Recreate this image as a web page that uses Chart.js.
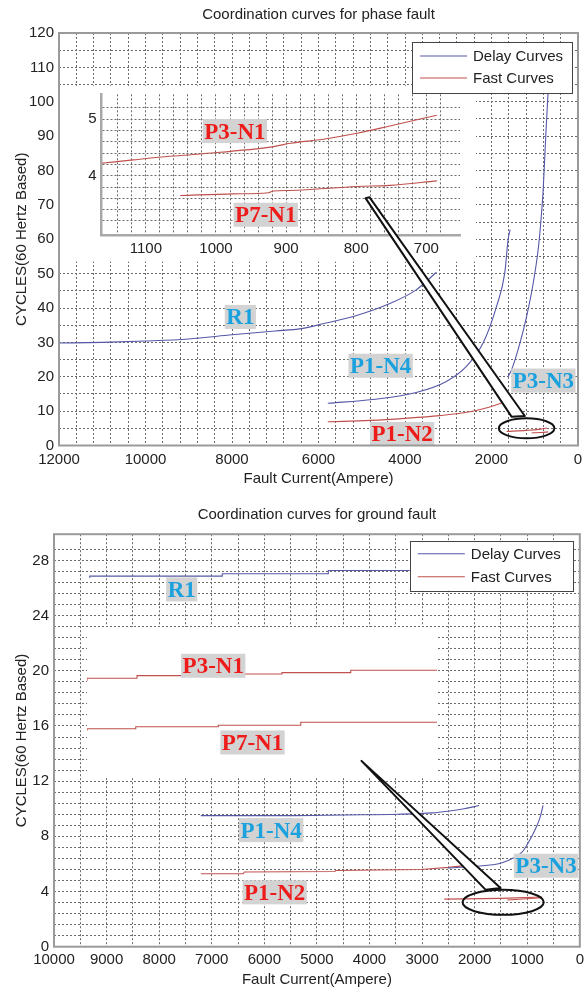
<!DOCTYPE html>
<html><head><meta charset="utf-8">
<script src="https://cdn.jsdelivr.net/npm/chart.js@4.4.1/dist/chart.umd.min.js"></script>
<style>
html,body{margin:0;padding:0;background:#fff;}
#wrap{position:relative;width:588px;height:992px;overflow:hidden;background:#fff;}
.fig{position:absolute;left:0;width:588px;}
.fig canvas{position:absolute;left:0;top:0;}
</style></head>
<body>
<div id="wrap">
  <div class="fig" style="top:0;height:492px">
    <canvas id="phaseMain" width="588" height="492"></canvas>
    <canvas id="phaseInset" width="588" height="492"></canvas>
  </div>
  <div class="fig" style="top:492px;height:500px">
    <canvas id="groundMain" width="588" height="500"></canvas>
    <canvas id="groundInset" width="588" height="500"></canvas>
  </div>
</div>
<script>
// ================= DATA =================
// ---- Phase fault, main axes (Fault current A  vs  cycles) ----
const phaseXLabels = [12000, 10000, 8000, 6000, 4000, 2000, 0];
const phaseYLabels = [0, 10, 20, 30, 40, 50, 60, 70, 80, 90, 100, 110, 120];
// Delay curves
const phaseR1_I   = [12000, 11000, 10000, 9000, 8000, 7000, 6400, 5900, 5100, 4350, 3750, 3274];
const phaseR1_T   = [29.8, 30.0, 30.4, 31.0, 32.2, 33.3, 34.0, 35.4, 37.9, 41.3, 45.2, 50.4];
const phaseP1N4_I = [5785, 4743, 3739, 3044, 2581, 2195, 1885, 1693, 1616, 1570];
const phaseP1N4_T = [12.3, 13.4, 15.4, 18.6, 23.0, 29.8, 40.4, 50.2, 59.9, 62.8];
const phaseP3N3_I = [1620, 1537, 1344, 1189, 1036, 920, 870, 805, 742, 689, 650];
const phaseP3N3_T = [20.0, 22.0, 29.7, 37.5, 47.2, 57.1, 63.5, 74.4, 90.9, 103.6, 112];
// Fast curves
const phaseP1N2_I = [5785, 4800, 4000, 3200, 2500, 2040, 1800, 1576];
const phaseP1N2_T = [6.9, 7.3, 7.9, 8.7, 9.8, 11.2, 12.2, 13.3];
const phaseP3N1_I = [1650, 1200, 900, 720];
const phaseP3N1_T = [4.1, 4.4, 4.7, 5.1];
const phaseP7N1_I = [1070, 850, 690];
const phaseP7N1_T = [3.7, 3.8, 3.95];
// ---- Phase fault, zoomed inset ----
const insetXLabels = [1100, 1000, 900, 800, 700];
const insetYLabels = [3, 4, 5];
const insetP3N1_I = [1163, 1118, 1070, 1023, 918, 894, 847, 799, 752, 685];
const insetP3N1_T = [4.22, 4.28, 4.34, 4.385, 4.515, 4.574, 4.645, 4.75, 4.88, 5.07];
const insetP7N1_I = [1051, 975, 925, 918, 894, 799, 752, 685];
const insetP7N1_T = [3.65, 3.68, 3.70, 3.73, 3.74, 3.81, 3.83, 3.91];

// ---- Ground fault, main axes ----
const groundXLabels = [10000, 9000, 8000, 7000, 6000, 5000, 4000, 3000, 2000, 1000, 0];
const groundYLabels = [0, 4, 8, 12, 16, 20, 24, 28];
const groundR1_I   = [9319, 6800, 4783, 3964, 3100];          // stepped
const groundR1_T   = [26.72, 26.86, 27.03, 27.27, 27.27];
const groundP1N4_I = [7208, 5539, 4500, 3459, 2800, 2514, 2200, 1915];
const groundP1N4_T = [9.5, 9.5, 9.55, 9.6, 9.7, 9.82, 10.0, 10.23];
const groundP3N3_I = [2514, 1758, 1507, 1253, 1100, 1002, 900, 813, 750, 699];
const groundP3N3_T = [5.70, 5.9, 6.05, 6.45, 6.85, 7.4, 8.1, 8.8, 9.45, 10.25];
const groundP1N2_I = [7208, 6400, 6380, 4660, 4640, 3020, 2500, 2000];
const groundP1N2_T = [5.29, 5.29, 5.41, 5.45, 5.52, 5.6, 5.75, 5.95];
const groundP3N1_I = [2577, 1500, 718];
const groundP3N1_T = [3.45, 3.5, 3.6];
const groundP7N1_I = [1380, 718];
const groundP7N1_T = [3.38, 3.55];
// ---- Ground fault, pasted inset (axes hidden) ----
const gInsetP3N1_I = [1156, 1116, 1075, 1000, 945, 888, 876];   // stepped
const gInsetP3N1_T = [19.32, 19.52, 19.71, 19.83, 19.93, 20.1, 20.1];
const gInsetP7N1_I = [1156, 1117, 1051, 985, 921, 876];         // stepped
const gInsetP7N1_T = [15.71, 15.85, 16.0, 16.1, 16.32, 16.32];

const legendLabels = ['Delay Curves', 'Fast Curves'];

// ================= STYLE =================
const DELAY = '#5558a8', FAST = '#c0504d';
const CYAN = '#1ba1dd', RED = '#ee1b1b', BOXGRAY = '#d3d3d3';
const SANS = '"Liberation Sans", Arial, Helvetica, sans-serif';
const SERIF = '"Liberation Serif", "Times New Roman", serif';
const TXT = '#222';
Chart.defaults.font.family = SANS;

// text label anchors (data units)
const phaseLabels = [
  {t:'R1', x:7807, y:37.4, c:CYAN}, {t:'P1-N4', x:4564, y:23.2, c:CYAN},
  {t:'P3-N3', x:800, y:18.9, c:CYAN}, {t:'P1-N2', x:4066, y:3.35, c:RED}];
const phaseInsetLabels = [{t:'P3-N1', x:973, y:4.79, c:RED}, {t:'P7-N1', x:929, y:3.31, c:RED}];
const groundLabels = [
  {t:'R1', x:7571, y:25.9, c:CYAN}, {t:'P1-N4', x:5870, y:8.45, c:CYAN},
  {t:'P1-N2', x:5803, y:3.94, c:RED}, {t:'P3-N3', x:643, y:5.87, c:CYAN}];
const groundInsetLabels = [{t:'P3-N1', x:1055, y:20.43, c:RED}, {t:'P7-N1', x:1023.6, y:14.85, c:RED}];
// call-out annotations (data units of main axes)
const phaseArrow = {x:[4912, 1537, 1229, 4819], y:[71.95, 8.39, 8.59, 72.2]};
const phaseEllipse = {x:[1831, 546], y:[7.9, 2.1]};
const groundArrow = {x:[4153, 1790, 1507], y:[13.47, 4.12, 4.25]};
const groundEllipse = {x:[2231, 686], y:[4.12, 2.31]};

// ================= HELPERS =================
function pts(xs, ys){ return xs.map((x,i)=>({x:x, y:ys[i]})); }
function ds(label, xs, ys, color, extra){
  return Object.assign({label:label, data:pts(xs,ys), borderColor:color, backgroundColor:color,
    borderWidth:1.1, pointRadius:0, fill:false, tension:0}, extra||{});
}
const smooth = {cubicInterpolationMode:'monotone'};
const stepAfter = {stepped:'after'};
function stepFilter(step){ return s => { s.ticks = s.ticks.filter(t => Math.abs(t.value/step - Math.round(t.value/step)) < 1e-6); }; }
function labelIf(list){ return v => list.some(l => Math.abs(l - v) < 1e-6) ? String(v) : ''; }
function boxLabel(ctx, text, px, py, color){
  ctx.save();
  ctx.font = 'bold 23px ' + SERIF;
  const w = ctx.measureText(text).width + 3, h = 24;
  ctx.fillStyle = BOXGRAY; ctx.fillRect(px - w/2, py - h/2, w, h);
  ctx.fillStyle = color; ctx.textAlign = 'center'; ctx.textBaseline = 'middle';
  ctx.fillText(text, px, py + 1.5);
  ctx.restore();
}
function drawLabels(chart, list){
  const sx = chart.scales.x, sy = chart.scales.y;
  list.forEach(l => boxLabel(chart.ctx, l.t, sx.getPixelForValue(l.x), sy.getPixelForValue(l.y), l.c));
}
function drawCallout(ctx, sx, sy, arrow, ell){
  ctx.save();
  ctx.beginPath();
  arrow.x.forEach((v,i) => { const px = sx.getPixelForValue(v), py = sy.getPixelForValue(arrow.y[i]); if (i) ctx.lineTo(px,py); else ctx.moveTo(px,py); });
  ctx.closePath();
  ctx.fillStyle = '#fff'; ctx.fill();
  ctx.lineWidth = 2; ctx.strokeStyle = '#111'; ctx.lineJoin = 'round'; ctx.stroke();
  const x1 = sx.getPixelForValue(ell.x[0]), x2 = sx.getPixelForValue(ell.x[1]);
  const y1 = sy.getPixelForValue(ell.y[0]), y2 = sy.getPixelForValue(ell.y[1]);
  ctx.beginPath();
  ctx.ellipse((x1+x2)/2, (y1+y2)/2, Math.abs(x2-x1)/2, Math.abs(y2-y1)/2, 0, 0, Math.PI*2);
  ctx.stroke();
  ctx.restore();
}
function drawLegend(ctx, area, g){
  const left = area.right - g.right - g.w, top = area.top + g.top;
  ctx.save();
  ctx.fillStyle = '#fff'; ctx.fillRect(left, top, g.w, g.h);
  ctx.strokeStyle = '#444'; ctx.lineWidth = 1; ctx.strokeRect(Math.round(left)+0.5, Math.round(top)+0.5, g.w, g.h);
  const cols = [DELAY, FAST];
  ctx.font = '15px ' + SANS; ctx.textBaseline = 'middle'; ctx.fillStyle = TXT;
  legendLabels.forEach((t,i) => {
    const y = top + g.rows[i];
    ctx.strokeStyle = cols[i]; ctx.lineWidth = 1.1;
    ctx.beginPath(); ctx.moveTo(left + 8, y); ctx.lineTo(left + 55, y); ctx.stroke();
    ctx.fillStyle = TXT; ctx.fillText(t, left + 61, y + 1);
  });
  ctx.restore();
}
const gridOpts = {color:'#6a6a6a', lineWidth:1, drawTicks:false};
const tickFont = {family:SANS, size:15};

function buildMain(id, cfg){
  const deco = {
    id:'mainDeco',
    afterDraw(chart){
      const ctx = chart.ctx, a = chart.chartArea;
      drawLabels(chart, cfg.labels);
      ctx.save();
      ctx.strokeStyle = '#9a9a9a'; ctx.lineWidth = 2;
      ctx.strokeRect(a.left, a.top, a.right - a.left, a.bottom - a.top);
      ctx.fillStyle = TXT; ctx.font = '15px ' + SANS; ctx.textAlign = 'center'; ctx.textBaseline = 'middle';
      ctx.fillText(cfg.title, (a.left + a.right)/2, a.top - cfg.titleGap);
      ctx.restore();
    }
  };
  return new Chart(document.getElementById(id), {
    type:'line',
    data:{datasets:cfg.datasets},
    options:{
      responsive:false, animation:false, devicePixelRatio:1, events:[],
      layout:{padding:cfg.padding},
      plugins:{legend:{display:false}, tooltip:{enabled:false}, title:{display:false}},
      scales:{
        x:{type:'linear', reverse:true, min:cfg.xMin, max:cfg.xMax,
           afterBuildTicks:stepFilter(cfg.xStep), afterFit:s => { s.height = cfg.xAxisH; },
           ticks:{stepSize:cfg.xStep, autoSkip:false, maxRotation:0, minRotation:0, padding:cfg.xTickPad,
                  font:tickFont, color:TXT, callback:labelIf(cfg.xLabels)},
           grid:gridOpts, border:{display:false, dash:[2,2]},
           title:{display:true, text:'Fault Current(Ampere)', font:{family:SANS,size:15}, color:TXT, padding:{top:0, bottom:cfg.xTitlePad}}},
        y:{type:'linear', min:cfg.yMin, max:cfg.yMax,
           afterBuildTicks:stepFilter(cfg.yStep), afterFit:s => { s.width = cfg.yAxisW; },
           ticks:{stepSize:cfg.yStep, autoSkip:false, padding:5, font:tickFont, color:TXT, callback:labelIf(cfg.yLabels)},
           grid:gridOpts, border:{display:false, dash:[2,2]},
           title:{display:true, text:'CYCLES(60 Hertz Based)', font:{family:SANS,size:15}, color:TXT, padding:{top:13, bottom:0}}}
      }
    },
    plugins:[deco]
  });
}

// ================= PHASE FAULT =================
const phaseMain = buildMain('phaseMain', {
  title:'Coordination curves for phase fault', titleGap:18,
  padding:{left:0, top:33, right:10, bottom:0}, yAxisW:59, xAxisH:46.5, xTickPad:5, xTitlePad:4,
  xMin:0, xMax:12000, xStep:400, xLabels:phaseXLabels,
  yMin:0, yMax:120, yStep:5, yLabels:phaseYLabels,
  labels:phaseLabels,
  datasets:[
    ds('R1', phaseR1_I, phaseR1_T, DELAY, smooth),
    ds('P1-N4', phaseP1N4_I, phaseP1N4_T, DELAY, smooth),
    ds('P3-N3', phaseP3N3_I, phaseP3N3_T, DELAY, smooth),
    ds('P1-N2', phaseP1N2_I, phaseP1N2_T, FAST, smooth),
    ds('P3-N1', phaseP3N1_I, phaseP3N1_T, FAST, smooth),
    ds('P7-N1', phaseP7N1_I, phaseP7N1_T, FAST, smooth)
  ]
});

new Chart(document.getElementById('phaseInset'), {
  type:'line',
  data:{datasets:[
    ds('P3-N1', insetP3N1_I, insetP3N1_T, FAST, smooth),
    ds('P7-N1', insetP7N1_I, insetP7N1_T, FAST, smooth)
  ]},
  options:{
    responsive:false, animation:false, devicePixelRatio:1, events:[],
    layout:{padding:{left:60, top:94.3, right:128, bottom:230.3}},
    plugins:{legend:{display:false}, tooltip:{enabled:false}, title:{display:false}},
    scales:{
      x:{type:'linear', reverse:true, min:652, max:1163,
         afterBuildTicks:stepFilter(20), afterFit:s => { s.height = 26; },
         ticks:{stepSize:20, autoSkip:false, maxRotation:0, minRotation:0, padding:4, font:tickFont, color:TXT, callback:labelIf(insetXLabels)},
         grid:gridOpts, border:{display:true, color:'#a8a8a8', width:2.5, dash:[2,2]}},
      y:{type:'linear', min:2.94, max:5.44,
         afterBuildTicks:stepFilter(0.2), afterFit:s => { s.width = 41.7; },
         ticks:{stepSize:0.2, autoSkip:false, padding:5, font:tickFont, color:TXT, callback:labelIf(insetYLabels)},
         grid:gridOpts, border:{display:true, color:'#a8a8a8', width:2.5, dash:[2,2]}}
    }
  },
  plugins:[{
    id:'insetDeco',
    beforeDraw(chart){
      const a = chart.chartArea, ctx = chart.ctx;
      ctx.save(); ctx.fillStyle = '#fff';
      ctx.fillRect(a.left - 41.7, a.top - 8.5, (a.right - a.left) + 41.7 + 16, (a.bottom - a.top) + 8.5 + 26);
      ctx.restore();
    },
    afterDraw(chart){
      drawLabels(chart, phaseInsetLabels);
      drawCallout(chart.ctx, phaseMain.scales.x, phaseMain.scales.y, phaseArrow, phaseEllipse);
      drawLegend(chart.ctx, phaseMain.chartArea, {right:6, top:9, w:160, h:51, rows:[14, 36]});
    }
  }]
});

// ================= GROUND FAULT =================
const groundMain = buildMain('groundMain', {
  title:'Coordination curves for ground fault', titleGap:19,
  padding:{left:0, top:42.2, right:5, bottom:0}, yAxisW:54, xAxisH:45.3, xTickPad:4, xTitlePad:3,
  xMin:0, xMax:10000, xStep:500, xLabels:groundXLabels,
  yMin:0, yMax:29.9, yStep:0.8, yLabels:groundYLabels,
  labels:groundLabels,
  datasets:[
    ds('R1', groundR1_I, groundR1_T, DELAY, stepAfter),
    ds('P1-N4', groundP1N4_I, groundP1N4_T, DELAY, smooth),
    ds('P3-N3', groundP3N3_I, groundP3N3_T, DELAY, smooth),
    ds('P1-N2', groundP1N2_I, groundP1N2_T, FAST),
    ds('P3-N1', groundP3N1_I, groundP3N1_T, FAST),
    ds('P7-N1', groundP7N1_I, groundP7N1_T, FAST)
  ]
});

new Chart(document.getElementById('groundInset'), {
  type:'line',
  data:{datasets:[
    ds('P3-N1', gInsetP3N1_I, gInsetP3N1_T, FAST, stepAfter),
    ds('P7-N1', gInsetP7N1_I, gInsetP7N1_T, FAST, stepAfter)
  ]},
  options:{
    responsive:false, animation:false, devicePixelRatio:1, events:[],
    layout:{padding:{left:87, top:135, right:151, bottom:215}},
    plugins:{legend:{display:false}, tooltip:{enabled:false}, title:{display:false}},
    scales:{
      x:{type:'linear', reverse:true, min:876, max:1156,
         afterBuildTicks:stepFilter(20), afterFit:s => { s.height = 0; },
         ticks:{display:false, stepSize:20, autoSkip:false},
         grid:gridOpts, border:{display:false, dash:[2,2]}},
      y:{type:'linear', display:false, min:12.34, max:23.25}
    }
  },
  plugins:[{
    id:'gInsetDeco',
    beforeDraw(chart){
      const a = chart.chartArea, ctx = chart.ctx;
      ctx.save(); ctx.fillStyle = '#fff';
      ctx.fillRect(a.left, a.top, a.right - a.left, a.bottom - a.top);
      ctx.restore();
    },
    afterDraw(chart){
      drawLabels(chart, groundInsetLabels);
      drawCallout(chart.ctx, groundMain.scales.x, groundMain.scales.y, groundArrow, groundEllipse);
      drawLegend(chart.ctx, groundMain.chartArea, {right:7, top:6.5, w:163, h:50, rows:[13, 36]});
    }
  }]
});
</script>
</body></html>
